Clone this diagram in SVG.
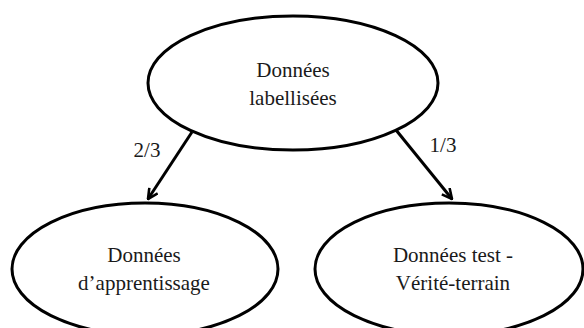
<svg xmlns="http://www.w3.org/2000/svg" width="584" height="328" viewBox="0 0 584 328">
<style>
.n{fill:#fff;stroke:#000;stroke-width:3}
.t{font-family:'Liberation Serif','Times New Roman','DejaVu Serif',serif;font-size:21px;fill:#1a1a1a;text-anchor:middle}
.c{stroke:#000;stroke-width:3;fill:none}
</style>
<defs>
<marker id="ah" viewBox="0 0 12 12" refX="11" refY="6" markerWidth="12" markerHeight="12" markerUnits="userSpaceOnUse" orient="auto">
<path d="M1,1 L11,6 L1,11" fill="none" stroke="#000" stroke-width="2.6"/>
</marker>
</defs>
<rect width="584" height="328" fill="#fff"/>
<g id="connectors">
<line class="c" x1="192" y1="132" x2="148" y2="199" marker-end="url(#ah)"/>
<line class="c" x1="396" y1="130" x2="452" y2="199" marker-end="url(#ah)"/>
<text class="t" x="147" y="157" font-family="Liberation Serif, serif">2/3</text>
<text class="t" x="443" y="152">1/3</text>
</g>
<g id="n1">
<ellipse class="n" cx="293" cy="83" rx="145" ry="67"/>
<text class="t" x="293" y="77">Données</text>
<text class="t" x="293" y="105">labellisées</text>
</g>
<g id="n2">
<ellipse class="n" cx="145" cy="269" rx="133" ry="66"/>
<text class="t" x="144" y="262">Données</text>
<text class="t" x="144" y="290">d’apprentissage</text>
</g>
<g id="n3">
<ellipse class="n" cx="449" cy="269" rx="134" ry="66"/>
<text class="t" x="453" y="262">Données test -</text>
<text class="t" x="453" y="290">Vérité-terrain</text>
</g>
</svg>
